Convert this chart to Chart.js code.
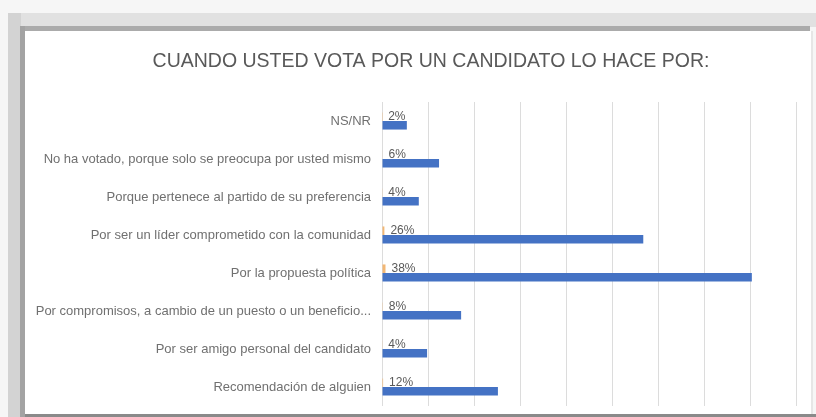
<!DOCTYPE html>
<html>
<head>
<meta charset="utf-8">
<script src="https://cdn.jsdelivr.net/npm/chart.js@4"></script>
<style>
  html, body { margin:0; padding:0; }
  body { width:816px; height:417px; background:#f6f6f6; position:relative; overflow:hidden; }
  .f { position:absolute; }
  #c { position:absolute; left:0; top:0; }
</style>
</head>
<body>
<div class="f" style="left:8px;top:13px;width:808px;height:14px;background:#e1e1e1;"></div>
<div class="f" style="left:8px;top:13px;width:13px;height:404px;background:#d3d3d3;"></div>
<div class="f" style="left:20px;top:26px;width:790px;height:5px;background:#ababab;"></div>
<div class="f" style="left:20px;top:26px;width:5px;height:391px;background:#a3a3a3;"></div>
<div class="f" style="left:25px;top:31px;width:787px;height:384px;background:#ffffff;"></div>
<div class="f" style="left:811px;top:31px;width:2px;height:384px;background:#e6e6e6;"></div>
<div class="f" style="left:25px;top:414px;width:791px;height:3px;background:#8a8a8a;"></div>
<canvas id="c" width="816" height="417"></canvas>
<script>
const categories = [
  'NS/NR',
  'No ha votado, porque solo se preocupa por usted mismo',
  'Porque pertenece al partido de su preferencia',
  'Por ser un líder comprometido con la comunidad',
  'Por la propuesta política',
  'Por compromisos, a cambio de un puesto o un beneficio...',
  'Por ser amigo personal del candidato',
  'Recomendación de alguien'
];
const counts = [2.7, 6.2, 4.0, 28.4, 40.2, 8.6, 4.9, 12.6];
const shares = [0.02, 0.06, 0.04, 0.26, 0.38, 0.08, 0.04, 0.12];
const titleText = 'CUANDO USTED VOTA POR UN CANDIDATO LO HACE POR:';

const FONT = '"Liberation Sans", Arial, sans-serif';

const labelPlugin = {
  id: 'shareLabels',
  afterDatasetsDraw(chart) {
    const ctx = chart.ctx;
    const meta = chart.getDatasetMeta(0);
    ctx.save();
    ctx.font = '12px ' + FONT;
    ctx.fillStyle = '#595959';
    ctx.textAlign = 'left';
    ctx.textBaseline = 'middle';
    meta.data.forEach((el, i) => {
      const v = chart.data.datasets[0].data[i];
      ctx.fillText(Math.round(v * 100) + '%', el.x + 6, el.y);
    });
    ctx.restore();
  }
};

const titlePlugin = {
  id: 'frameTitle',
  afterDraw(chart) {
    const ctx = chart.ctx;
    ctx.save();
    ctx.font = '19.5px ' + FONT;
    ctx.fillStyle = '#595959';
    ctx.textAlign = 'center';
    ctx.textBaseline = 'middle';
    ctx.fillText(titleText, chart.width / 2 + 23, 62);
    ctx.restore();
  }
};

new Chart(document.getElementById('c'), {
  type: 'bar',
  data: {
    labels: categories,
    datasets: [
      { data: shares, backgroundColor: '#f2b774', categoryPercentage: 0.45, barPercentage: 1.0 },
      { data: counts, backgroundColor: '#4472c4', categoryPercentage: 0.45, barPercentage: 1.0 }
    ]
  },
  options: {
    indexAxis: 'y',
    responsive: false,
    animation: false,
    layout: { padding: { left: 28, right: 20, top: 102, bottom: 11 } },
    plugins: {
      legend: { display: false },
      tooltip: { enabled: false },
      title: { display: false }
    },
    scales: {
      x: {
        min: 0, max: 45,
        ticks: { display: false, stepSize: 5 },
        grid: { color: '#dcdcdc', lineWidth: 1, drawTicks: false },
        border: { display: false },
        afterFit(s) { s.height = 0; }
      },
      y: {
        grid: { display: false, drawTicks: false },
        border: { display: false },
        ticks: {
          color: '#707070',
          padding: 11,
          autoSkip: false,
          font: { family: FONT, size: 13 }
        },
        afterFit(s) { s.width = 354; s.paddingTop = 0; s.paddingBottom = 0; }
      }
    }
  },
  plugins: [labelPlugin, titlePlugin]
});
</script>
</body>
</html>
